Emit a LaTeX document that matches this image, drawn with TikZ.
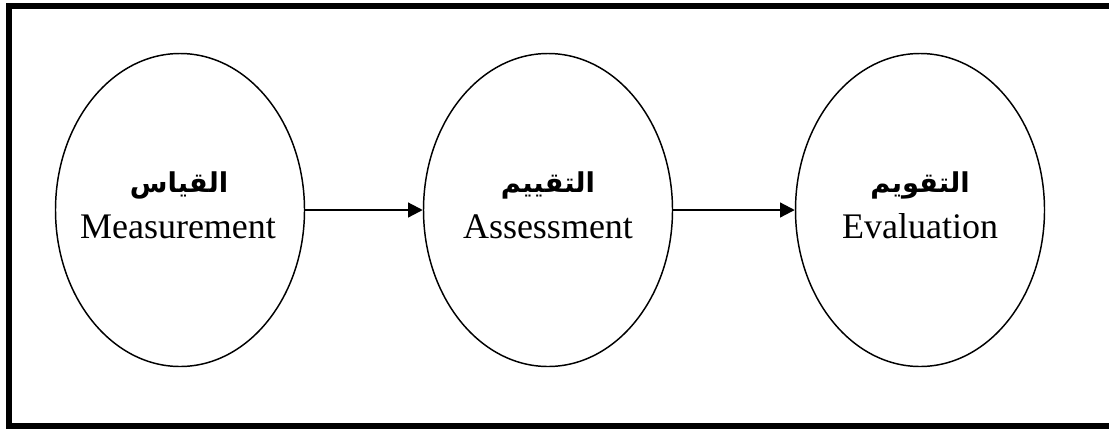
\documentclass[tikz,border=0pt]{standalone}
\usepackage{fontspec}
\setmainfont{Liberation Serif}
\newfontfamily\arabicfont[Script=Arabic]{DejaVu Sans}
\TeXXeTstate=1
\usetikzlibrary{shapes.geometric,arrows.meta}

\begin{document}
\begin{tikzpicture}[x=0.75pt,y=-0.75pt]
\tikzstyle{oval}=[draw,ellipse,line width=1.1pt,inner sep=0pt,minimum width=186.75pt,minimum height=234.75pt]
\tikzstyle{artxt}=[anchor=base,inner sep=0pt,font=\arabicfont\bfseries\fontsize{20.5}{24}\selectfont]
\tikzstyle{entxt}=[anchor=base,inner sep=0pt,font=\fontsize{27}{32}\selectfont]
\tikzstyle{flow}=[line width=1.6pt,-{Triangle[length=11pt,width=11pt]}]
\useasboundingbox (0,0) rectangle (1109,433);
\draw [black,line width=4.5pt] (9,6) rectangle (1120,426);
\node [oval] (meas) at (180,210) {};
\node [artxt] (measar) at (179,192) {\beginR القياس\endR};
\node [entxt] (measen) at (178,238) {Measurement};
\node [oval] (assess) at (548,210) {};
\node [artxt] (assessar) at (548,192) {\beginR التقييم\endR};
\node [entxt] (assessen) at (548,238) {Assessment};
\node [oval] (eval) at (920,210) {};
\node [artxt] (evalar) at (920,192) {\beginR التقويم\endR};
\node [entxt] (evalen) at (920,238) {Evaluation};
\draw [flow] (meas.east) -- (assess.west);
\draw [flow] (assess.east) -- (eval.west);
\end{tikzpicture}
\end{document}
